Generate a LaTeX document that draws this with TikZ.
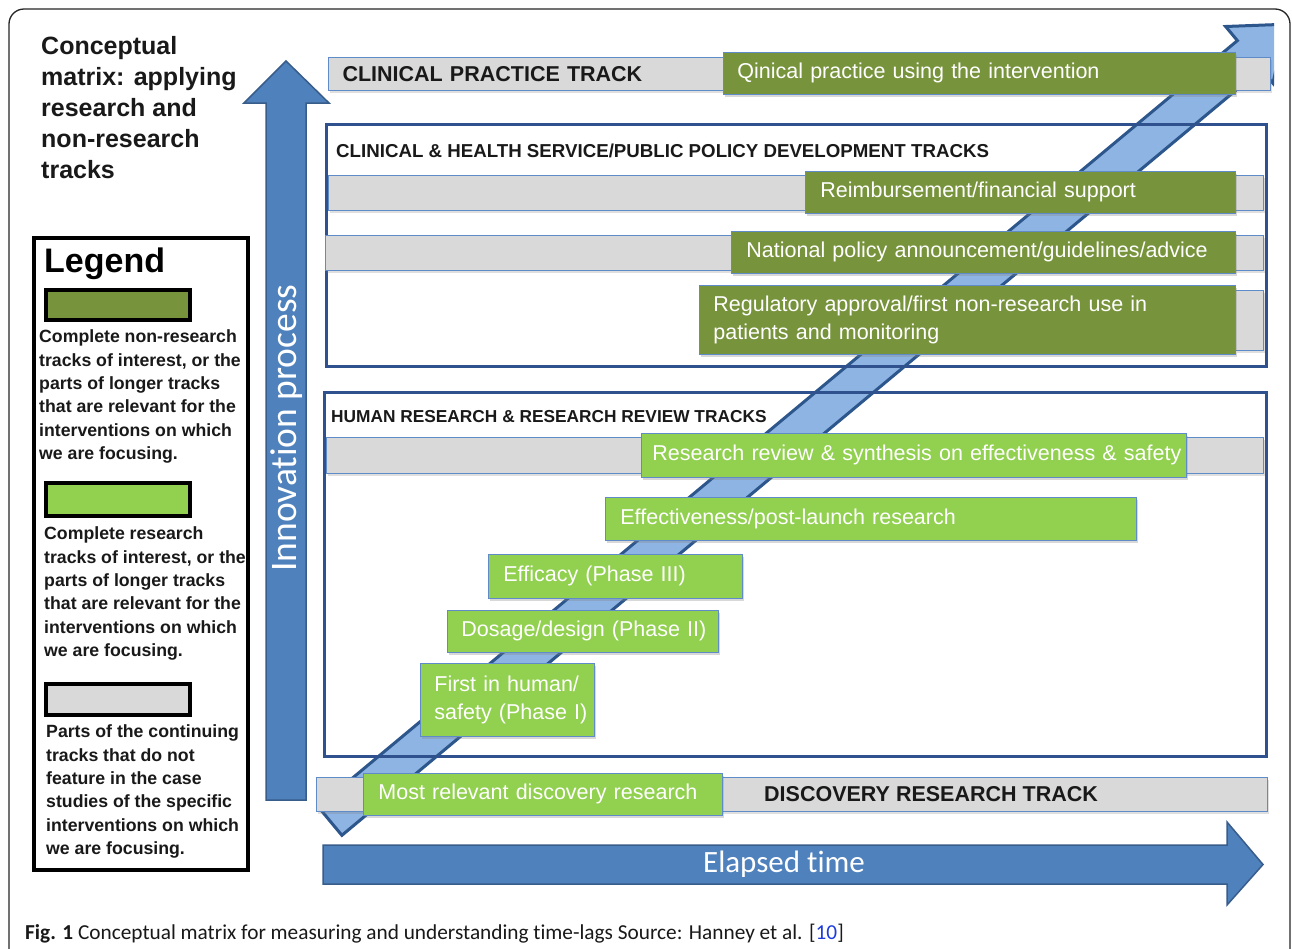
\documentclass[tikz,border=0pt]{standalone}
\usepackage{fontspec}
\setmainfont{Liberation Sans}
\newfontfamily\calibfont[Ligatures=NoCommon]{Carlito}
\usetikzlibrary{shadows}
\definecolor{dkblue}{RGB}{47,82,143}
\definecolor{arrowblue}{RGB}{79,129,189}
\definecolor{arrowedge}{RGB}{56,93,138}
\definecolor{bandfill}{RGB}{141,180,226}
\definecolor{bandedge}{RGB}{44,86,140}
\definecolor{dkgreen}{RGB}{119,147,60}
\definecolor{ltgreen}{RGB}{146,208,80}
\definecolor{barfill}{RGB}{217,217,217}
\definecolor{baredge}{RGB}{95,140,200}
\definecolor{linkblue}{RGB}{30,60,220}
\definecolor{txt}{RGB}{25,25,25}
\tikzset{
  bar/.style={draw=baredge, fill=barfill, line width=1pt, inner sep=0pt, anchor=north west,
    drop shadow={shadow xshift=1.5pt, shadow yshift=-2.5pt, opacity=0.25}},
  gbox/.style={draw=baredge, line width=0.8pt, text=white, anchor=north west, align=left,
    inner ysep=0pt, font=\fontsize{21.5}{28}\selectfont,
    drop shadow={shadow xshift=2pt, shadow yshift=-3pt, opacity=0.3}},
  dkg/.style={gbox, fill=dkgreen},
  ltg/.style={gbox, fill=ltgreen},
  trackbox/.style={draw=dkblue, line width=3pt, inner sep=0pt, anchor=north west},
  tracklabel/.style={font=\bfseries\fontsize{21.5}{24}\selectfont, text=txt, anchor=base west, inner sep=0pt},
  heading/.style={font=\bfseries\fontsize{18}{20}\selectfont, text=txt, anchor=base west, inner sep=0pt},
  swatch/.style={draw=black, line width=4pt, inner sep=0pt, anchor=north west, minimum width=144pt},
  legtext/.style={font=\bfseries\fontsize{17.7}{23.4}\selectfont, text=txt, align=left, anchor=north west, inner sep=0pt},
  bigarrow/.style={fill=arrowblue, draw=arrowedge, line width=1.5pt, line join=miter},
}
\begin{document}
\begin{tikzpicture}[x=1pt,y=-1pt]
\useasboundingbox (0,0) rectangle (1292,948);
\fill[white] (0,0) rectangle (1292,948);
% outer frame
\draw[line width=1.3pt, draw=black!85, rounded corners=15pt] (9,9) rectangle (1290,1010);

% diagonal band
\begin{scope}
\clip (0,0) rectangle (1274,948);
\draw[fill=bandfill, draw=bandedge, line width=3pt, line join=miter]
  (318.1,806.7) -- (1237.4,40.6) -- (1225.6,26.5) -- (1286.2,24.2) -- (1272.9,83.3)
  -- (1261.2,69.2) -- (341.9,835.3) -- cycle;
\end{scope}

% track boxes
\node[trackbox, minimum width=940pt, minimum height=242pt] (chbox) at (325,123) {};
\node[trackbox, minimum width=942pt, minimum height=364pt] (hrbox) at (323,391) {};
\node[heading, font=\bfseries\fontsize{18.7}{20}\selectfont] (chhead) at (336,157.5) {CLINICAL \& HEALTH SERVICE/PUBLIC POLICY DEVELOPMENT TRACKS};
\node[heading, font=\bfseries\fontsize{17.3}{20}\selectfont] (hrhead) at (331,422.5) {HUMAN RESEARCH \& RESEARCH REVIEW TRACKS};

% grey bars
\node[bar, minimum width=942pt, minimum height=33pt, text width=914pt, inner xsep=14pt, align=left,
  font=\bfseries\fontsize{21.5}{24}\selectfont, text=txt] (cpbar) at (328,57) {\mbox{CLINICAL PRACTICE TRACK}};
\node[bar, minimum width=935pt, minimum height=35pt] (reimbbar) at (328,175) {};
\node[bar, minimum width=938pt, minimum height=35pt] (natlbar) at (325,235) {};
\node[bar, minimum width=28pt, minimum height=60pt] (regbar) at (1235,290) {};
\node[bar, minimum width=937pt, minimum height=36pt] (reviewbar) at (326,437) {};
\node[bar, minimum width=951pt, minimum height=34pt] (discbar) at (316,777) {};

% green boxes
\node[dkg, minimum width=512pt, minimum height=42pt, text width=484pt, inner xsep=14pt] (cp) at (723,52) {\mbox{Qinical practice using the intervention}};
\node[dkg, minimum width=430pt, minimum height=42pt, text width=400pt, inner xsep=15pt] (reimb) at (805,171) {\mbox{Reimbursement/financial support}};
\node[dkg, minimum width=504pt, minimum height=42pt, text width=474pt, inner xsep=15pt] (natl) at (731,231) {\mbox{National policy announcement/guidelines/advice}};
\node[dkg, minimum width=536pt, minimum height=69pt, text width=508pt, inner xsep=14pt] (reg) at (699,285) {\mbox{Regulatory approval/first non-research use in}\\\mbox{patients and monitoring}};
\node[ltg, minimum width=545pt, minimum height=44pt, text width=523pt, inner xsep=11pt] (review) at (641,433) {\mbox{Research review \& synthesis on effectiveness \& safety}};
\node[ltg, minimum width=531pt, minimum height=43pt, text width=501pt, inner xsep=15pt] (eff) at (605,497) {\mbox{Effectiveness/post-launch research}};
\node[ltg, minimum width=254pt, minimum height=44pt, text width=224pt, inner xsep=15pt] (efficacy) at (488,554) {\mbox{Efficacy (Phase III)}};
\node[ltg, minimum width=271pt, minimum height=42pt, text width=243pt, inner xsep=14pt] (dosage) at (447,610) {\mbox{Dosage/design (Phase II)}};
\node[ltg, minimum width=174pt, minimum height=73pt, text width=146pt, inner xsep=14pt] (first) at (420,663) {\mbox{First in human/}\\\mbox{safety (Phase I)}};
\node[ltg, minimum width=359pt, minimum height=42pt, text width=329pt, inner xsep=15pt] (disc) at (363,773) {\mbox{Most relevant discovery research}};
\node[tracklabel] (disclabel) at (764,801.7) {DISCOVERY RESEARCH TRACK};

% innovation arrow
\draw[bigarrow] (266,800) -- (266,103) -- (244,103) -- (286,61) -- (329,103) -- (306,103) -- (306,800) -- cycle;
\node[rotate=90, text=white, font=\calibfont\fontsize{37.5}{40}\selectfont, inner sep=0pt] (innov) at (287,428) {Innovation process};

% elapsed time arrow
\draw[bigarrow] (323,845) -- (1227,845) -- (1227,822) -- (1263,864.5) -- (1227,905) -- (1227,884) -- (323,884) -- cycle;
\node[text=white, font=\calibfont\fontsize{31}{34}\selectfont, inner sep=0pt] (elapsed) at (784,864.5) {Elapsed time};

% title
\node[font=\bfseries\fontsize{25}{31}\selectfont, text=txt, align=left, anchor=north west, inner sep=0pt] (title) at (41,36)
  {Conceptual\\matrix: applying\\research and\\non-research\\tracks};

% legend
\node[draw=black, line width=3.5pt, minimum width=214pt, minimum height=632pt, anchor=north west, inner sep=0pt] (legend) at (32,236) {};
\node[font=\bfseries\fontsize{34}{38}\selectfont, text=black, anchor=north west, inner sep=0pt] (legtitle) at (44,248) {Legend};
\node[swatch, fill=dkgreen, minimum height=30pt] (swdk) at (44,288) {};
\node[legtext] (legdk) at (39,329.7) {Complete non-research\\tracks of interest, or the\\parts of longer tracks\\that are relevant for the\\interventions on which\\we are focusing.};
\node[swatch, fill=ltgreen, minimum height=33pt] (swlt) at (44,481) {};
\node[legtext] (leglt) at (44,526.7) {Complete research\\tracks of interest, or the\\parts of longer tracks\\that are relevant for the\\interventions on which\\we are focusing.};
\node[swatch, fill=barfill, minimum height=31pt] (swgr) at (44,682) {};
\node[legtext] (leggr) at (46,724.7) {Parts of the continuing\\tracks that do not\\feature in the case\\studies of the specific\\interventions on which\\we are focusing.};

% caption
\node[anchor=base west, inner sep=0pt, text=txt, font=\calibfont\fontsize{21.3}{24}\selectfont] (caption) at (25,939)
  {\textbf{Fig. 1} Conceptual matrix for measuring and understanding time-lags Source: Hanney et al. [\textcolor{linkblue}{10}]};
\end{tikzpicture}
\end{document}
